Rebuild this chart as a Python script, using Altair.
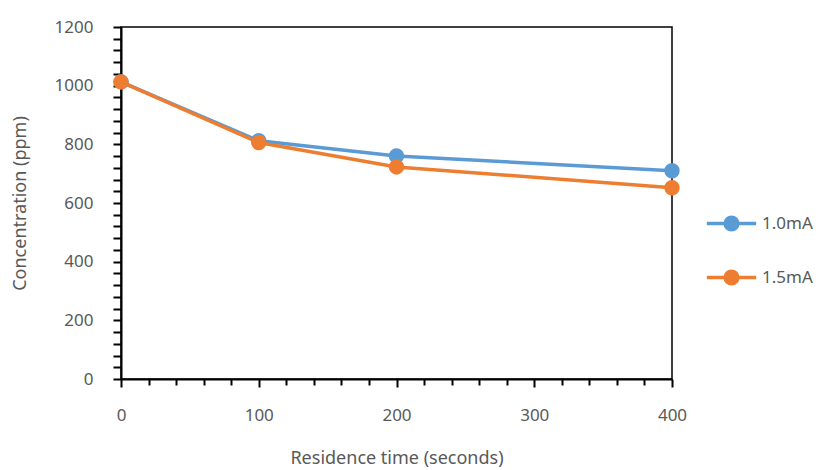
import altair as alt
import pandas as pd

time_s = [0, 100, 200, 400]
series_names = ["1.0mA", "1.5mA"]
conc_10 = [1013, 812, 760, 710]
conc_15 = [1013, 806, 723, 652]
colors = ["#5B9BD5", "#ED7D31"]
x_tick_values = list(range(0, 401, 20))
y_tick_values = list(range(0, 1201, 40))

rows = []
for name, vals in zip(series_names, [conc_10, conc_15]):
    for t, v in zip(time_s, vals):
        rows.append({"t": t, "c": v, "s": name})
df = pd.DataFrame(rows)

FONT = "Noto Sans"
GRAY = "#595959"
legend_path = "M-3.9,0 L3.9,0 M1,0 A1,1 0 1,1 -1,0 A1,1 0 1,1 1,0 Z"


def make_legend():
    return alt.Legend(
        title=None, orient="none", legendX=602, legendY=188,
        symbolType=legend_path, symbolSize=160, symbolStrokeWidth=3.5,
        labelOffset=22, rowPadding=27, padding=0,
        labelFont=FONT, labelFontSize=17, labelColor=GRAY,
    )


x_enc = alt.X(
    "t:Q",
    scale=alt.Scale(domain=[0, 400], nice=False, zero=False),
    axis=alt.Axis(
        title="Residence time (seconds)",
        values=x_tick_values,
        format="d",
        labelExpr="datum.value % 100 === 0 ? datum.label : ''",
        labelFlush=False,
        tickSize={"condition": {"test": "datum.value % 100 === 0", "value": 8}, "value": 6},
        labelPadding=20,
        titleX=275.5, titleY=84, titleBaseline="alphabetic", titleAlign="center",
        grid=False,
    ),
)
y_enc = alt.Y(
    "c:Q",
    scale=alt.Scale(domain=[0, 1200], nice=False),
    axis=alt.Axis(
        title="Concentration (ppm)",
        values=y_tick_values,
        format="d",
        labelExpr="datum.value % 200 === 0 ? datum.label : ''",
        labelFlush=False,
        tickSize=8,
        labelPadding=20,
        titleX=-101, titleY=176, titleAngle=270, titleBaseline="middle", titleAlign="center",
        grid=False,
    ),
)
scale_c = alt.Scale(domain=series_names, range=colors)

lines = alt.Chart(df).mark_line(strokeWidth=3.5).encode(
    x=x_enc, y=y_enc,
    stroke=alt.Stroke("s:N", scale=scale_c, legend=make_legend()),
    detail="s:N",
)
points = alt.Chart(df).mark_point(filled=True, size=180, shape="circle", opacity=1).encode(
    x=x_enc, y=y_enc,
    fill=alt.Fill("s:N", scale=scale_c, legend=make_legend()),
    stroke=alt.Stroke("s:N", scale=scale_c, legend=make_legend()),
    order=alt.Order("s:N"),
)

chart = alt.layer(lines, points).properties(
    width=551, height=352,
    autosize=alt.AutoSizeParams(type="none"),
    padding={"left": 113, "top": 19, "right": 142, "bottom": 90},
    background="white",
).configure_view(
    stroke="black", strokeWidth=1.5
).configure_axis(
    domainColor="black", domainWidth=2, tickColor="black", tickWidth=2,
    labelFont=FONT, labelFontSize=17, labelColor=GRAY,
    titleFont=FONT, titleFontSize=18, titleColor=GRAY, titleFontWeight="normal",
).configure_legend(
    labelFont=FONT, labelFontSize=17, labelColor=GRAY,
)

chart.save("out.html", embed_options={"renderer": "svg", "actions": False})
